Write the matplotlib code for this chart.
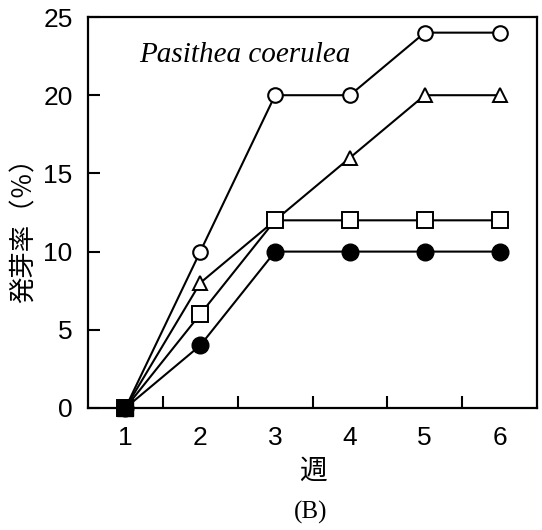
import matplotlib
matplotlib.use("Agg")
import matplotlib.pyplot as plt

weeks = [1, 2, 3, 4, 5, 6]
open_circle = [0, 10, 20, 20, 24, 24]
open_triangle = [0, 8, 12, 16, 20, 20]
open_square = [0, 6, 12, 12, 12, 12]
filled_circle = [0, 4, 10, 10, 10, 10]
yticks = [0, 5, 10, 15, 20, 25]
xminor = [1.5, 2.5, 3.5, 4.5, 5.5]

fig = plt.figure(figsize=(5.42, 5.30), dpi=100)
ax = fig.add_axes([0.1624, 0.2302, 0.8284, 0.7377])

lw = 1.5
ax.plot(weeks, open_circle, color='black', lw=lw, marker='o', ms=10.5,
        mfc='white', mec='black', mew=1.5, zorder=3, clip_on=False)
ax.plot(weeks, open_triangle, color='black', lw=lw, marker='^', ms=10.5,
        mfc='white', mec='black', mew=1.4, zorder=3, clip_on=False)
ax.plot(weeks, open_square, color='black', lw=lw, marker='s', ms=11,
        mfc='white', mec='black', mew=1.4, zorder=3, clip_on=False)
ax.plot(weeks, filled_circle, color='black', lw=lw, marker='o', ms=12,
        mfc='black', mec='black', zorder=3, clip_on=False)
ax.plot(weeks[:1], open_square[:1], ls='none', marker='s', ms=12,
        mfc='black', mec='black', zorder=4, clip_on=False)

ax.set_xlim(0.5, 6.5)
ax.set_ylim(0, 25)
ax.set_yticks(yticks)
ax.set_xticks(weeks)
ax.set_xticks(xminor, minor=True)

tickfont = dict(family='Liberation Sans', size=19)
ax.set_xticklabels([str(w) for w in weeks], **tickfont)
ax.set_yticklabels([str(y) for y in yticks], **tickfont)
ax.tick_params(axis='x', which='major', length=0, pad=13)
ax.tick_params(axis='x', which='minor', direction='in', length=8.5, width=1.5)
ax.tick_params(axis='y', which='major', direction='in', length=8.5, width=1.5, pad=11)
for s in ax.spines.values():
    s.set_linewidth(1.6)

ax.text(0.1136, 0.903, 'Pasithea coerulea', transform=ax.transAxes,
        family='Liberation Serif', style='italic', fontsize=21, ha='left', va='center')

ax.set_xlabel('週', family=['Noto Sans CJK JP', 'DejaVu Sans'], fontsize=20, labelpad=4)
ax.set_ylabel('発芽率（％）', family=['Noto Sans CJK JP', 'DejaVu Sans'], fontsize=19, va='center')
ax.yaxis.set_label_coords(-0.1425, 0.471)

fig.text(0.574, 0.034, '(B)', family='Liberation Serif', fontsize=18, ha='center', va='center')

fig.savefig('out.png', dpi=100)
